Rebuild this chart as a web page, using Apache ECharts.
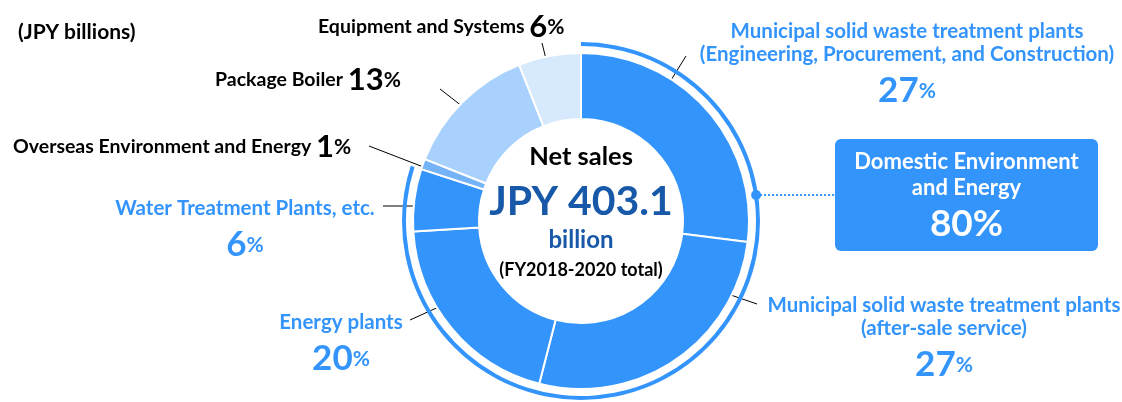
<!DOCTYPE html>
<html><head><meta charset="utf-8">
<script src="https://cdn.jsdelivr.net/npm/echarts@6/dist/echarts.min.js"></script>
<style>html,body{margin:0;padding:0;background:#fff}#c{width:1122px;height:402px}</style>
</head><body><div id="c"></div>
<script>
// ---- data ----
const categories = [
  'Municipal solid waste treatment plants\n(Engineering, Procurement, and Construction)',
  'Municipal solid waste treatment plants\n(after-sale service)',
  'Energy plants',
  'Water Treatment Plants, etc.',
  'Overseas Environment and Energy',
  'Package Boiler',
  'Equipment and Systems'
];
const shares = [27, 27, 20, 6, 1, 13, 6];          // % of net sales
const isDomestic = [true, true, true, true, false, false, false];
const groupNames = ['Domestic Environment\nand Energy', 'Other'];
const groupShares = [80, 20];
const netSalesTotal = 403.1;                         // JPY billions
const unitLabel = '(JPY billions)';
const periodLabel = '(FY2018-2020 total)';

// ---- styles / layout ----
const FONT = 'Lato, "Open Sans", sans-serif';
const BLUE = '#3394fc';
const DARK = '#1759a8';
const colors = [BLUE, BLUE, BLUE, BLUE, '#75b3f9', '#a8d2fd', '#d6e9fd'];
const CX = 581, CY = 221;
const labelPos = [
  {x: 907, y: 20,  align: 'center', va: 'top',    line: [[668, 85], [686, 56]]},
  {x: 944, y: 294, align: 'center', va: 'top',    line: [[722, 292], [757, 304]]},
  {x: 341, y: 311, align: 'center', va: 'top',    line: [[443, 305], [410, 320]]},
  {x: 245, y: 197, align: 'center', va: 'top',    line: [[422, 206], [383, 206]]},
  {x: 13,  y: 147, align: 'left',   va: 'middle', line: [[426, 168], [369, 146]]},
  {x: 215, y: 80,  align: 'left',   va: 'middle', line: [[467, 110], [440, 89]]},
  {x: 318, y: 27,  align: 'left',   va: 'middle', line: [[547, 63], [542, 43]]}
];

const chart = echarts.init(document.getElementById('c'), null, {renderer: 'canvas'});

const ringR = 177;
const dotY = 195;
const dotX = CX + Math.sqrt(ringR * ringR - (CY - dotY) * (CY - dotY));
const box = {x: 835, y: 139, w: 263, h: 112};

chart.setOption({
  animation: false,
  backgroundColor: '#fff',
  textStyle: {fontFamily: FONT},
  series: [
    {
      type: 'pie',
      center: [CX, CY],
      radius: [102, 168],
      startAngle: 90,
      clockwise: true,
      silent: true,
      avoidLabelOverlap: false,
      itemStyle: {borderColor: '#fff', borderWidth: 2},
      data: categories.map((n, i) => ({name: n, value: shares[i], itemStyle: {color: colors[i]}})),
      label: {
        show: true,
        position: 'outside',
        fontFamily: FONT,
        formatter: p => isDomestic[p.dataIndex]
          ? `{n|${p.name}}\n{p|${p.value}}{s|%}`
          : `{k|${p.name} }{b|${p.value}}{t|%}`,
        rich: {
          n: {fontFamily: FONT, fontSize: 20.5, fontWeight: 'bold', color: BLUE, lineHeight: 23},
          p: {fontFamily: FONT, fontSize: 35, fontWeight: 'bold', color: BLUE, lineHeight: 50},
          s: {fontFamily: FONT, fontSize: 21, fontWeight: 'bold', color: BLUE, lineHeight: 30},
          k: {fontFamily: FONT, fontSize: 19.5, fontWeight: 'bold', color: '#000', lineHeight: 30},
          b: {fontFamily: FONT, fontSize: 31, fontWeight: 'bold', color: '#000', lineHeight: 30},
          t: {fontFamily: FONT, fontSize: 21, fontWeight: 'bold', color: '#000', lineHeight: 30}
        }
      },
      labelLine: {show: true, length: 10, length2: 10, lineStyle: {color: '#000', width: 1}},
      labelLayout: params => {
        const L = labelPos[params.dataIndex];
        return {
          x: L.x, y: L.y, align: L.align, verticalAlign: L.va,
          labelLinePoints: [L.line[0], L.line[1], L.line[1]]
        };
      }
    },
    {
      type: 'pie',
      center: [CX, CY],
      radius: [ringR - 2, ringR + 2],
      startAngle: 90,
      clockwise: true,
      silent: true,
      label: {show: false},
      labelLine: {show: false},
      data: groupNames.map((n, i) => ({
        name: n, value: groupShares[i],
        itemStyle: {color: i === 0 ? BLUE : 'rgba(0,0,0,0)'}
      }))
    }
  ],
  graphic: [
    {type: 'text', x: 18, y: 32, style: {text: unitLabel, font: `bold 21px ${FONT}`, fill: '#000', textVerticalAlign: 'middle'}},
    {type: 'text', x: CX, y: 157, style: {text: 'Net sales', font: `bold 25.5px ${FONT}`, fill: '#000', textAlign: 'center', textVerticalAlign: 'middle'}},
    {type: 'text', x: CX, y: 202, style: {text: 'JPY ' + netSalesTotal.toFixed(1), font: `bold 41px ${FONT}`, fill: DARK, textAlign: 'center', textVerticalAlign: 'middle'}},
    {type: 'text', x: CX, y: 240, style: {text: 'billion', font: `bold 24px ${FONT}`, fill: DARK, textAlign: 'center', textVerticalAlign: 'middle'}},
    {type: 'text', x: CX, y: 270, style: {text: periodLabel, font: `bold 18px ${FONT}`, fill: '#000', textAlign: 'center', textVerticalAlign: 'middle'}},
    {type: 'line', shape: {x1: dotX, y1: dotY, x2: box.x, y2: dotY}, style: {stroke: BLUE, lineWidth: 2, lineDash: [2, 2]}},
    {type: 'circle', shape: {cx: dotX, cy: dotY, r: 5}, style: {fill: BLUE}},
    {type: 'rect', shape: {x: box.x, y: box.y, width: box.w, height: box.h, r: 6}, style: {fill: BLUE}},
    {type: 'text', x: box.x + box.w / 2, y: 175, style: {text: groupNames[0], font: `bold 22px ${FONT}`, fill: '#fff', textAlign: 'center', textVerticalAlign: 'middle', lineHeight: 26}},
    {type: 'text', x: box.x + box.w / 2, y: 224, style: {text: groupShares[0] + '%', font: `bold 37px ${FONT}`, fill: '#fff', textAlign: 'center', textVerticalAlign: 'middle'}}
  ]
});
</script></body></html>
